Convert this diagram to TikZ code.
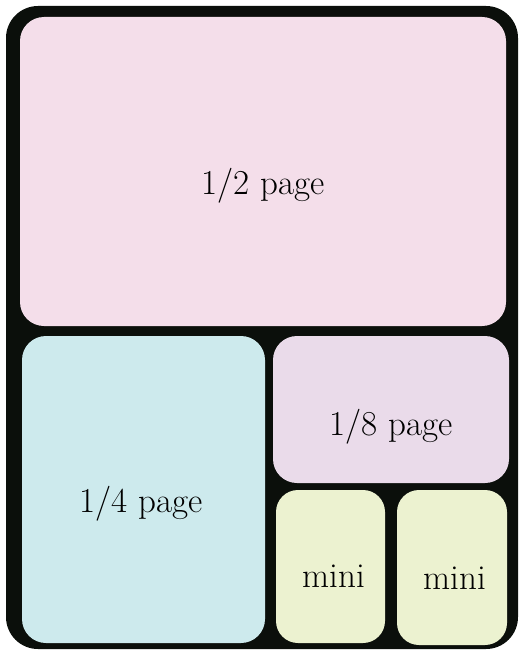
\documentclass[tikz,border=0pt]{standalone}
\definecolor{frameblack}{RGB}{11,15,11}
\definecolor{halfpink}{RGB}{244,222,234}
\definecolor{quartercyan}{RGB}{205,234,237}
\definecolor{eighthlav}{RGB}{234,219,234}
\definecolor{minigreen}{RGB}{236,242,208}
\begin{document}
\begin{tikzpicture}[x=1pt,y=-1pt,
  panel/.style={rounded corners=24pt},
  lbl/.style={font=\fontsize{35}{40}\selectfont, inner sep=0pt, anchor=base}]
\useasboundingbox (0,0) rectangle (521,650);
\fill[frameblack, rounded corners=32pt] (6,6) rectangle (518,649);
\fill[halfpink, panel] (20,17) rectangle (506,326);
\fill[quartercyan, panel] (22,336) rectangle (265,643);
\fill[eighthlav, panel] (273,336) rectangle (509,483);
\fill[minigreen, panel, rounded corners=22pt] (276,490) rectangle (385,643);
\fill[minigreen, panel, rounded corners=22pt] (397,490) rectangle (507,645);
\node[lbl] (half) at (263,194) {1/2 page};
\node[lbl] (eighth) at (391,435) {1/8 page};
\node[lbl] (quarter) at (141,512) {1/4 page};
\node[lbl] (minia) at (334,587) {mini};
\node[lbl] (minib) at (455,589) {mini};
\end{tikzpicture}
\end{document}
